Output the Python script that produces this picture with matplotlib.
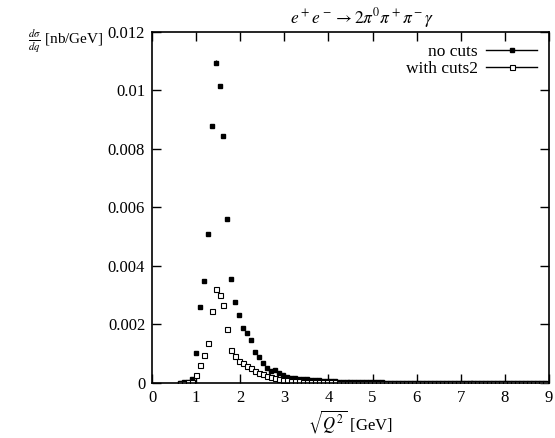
import numpy as np
import matplotlib
matplotlib.use("Agg")
import matplotlib.pyplot as plt
from matplotlib.lines import Line2D

plt.rcParams['font.family'] = ['Liberation Serif', 'DejaVu Serif']
plt.rcParams['mathtext.fontset'] = 'stix'

# bin positions (GeV), width 0.09
q = np.round(np.arange(7, 100) * 0.09, 2)

# no cuts
no_cuts = [0.00001, 0.00002, 0.00005, 0.00012, 0.00104, 0.0026, 0.0035, 0.0051, 0.0088, 0.01095,
           0.01015, 0.00845, 0.0056, 0.00356, 0.00278, 0.00232, 0.00187, 0.00172, 0.00147, 0.00107,
           0.0009, 0.00069, 0.00052, 0.00042, 0.00044, 0.00035, 0.00028, 0.0002, 0.00018, 0.00017,
           0.00015, 0.00014, 0.00012, 0.00011, 0.0001, 0.00009, 0.00008, 0.00007, 0.00006, 0.00006,
           0.00005, 0.00005, 0.00004, 0.00004, 0.00003, 0.00003, 0.00003, 0.00002, 0.00002, 0.00002,
           0.00002, 0.00002, 0.00001, 0.00001, 0.00001, 0.00001, 0.00001, 0.00001, 0.00001, 0.00001,
           0.00001, 0.00001, 0.00001, 0.00001, 0.00001, 0.00001, 0.00001, 0.00001, 0.00001, 0.00001,
           0.00001, 0.00001, 0.00001, 0.00001, 0.00001, 0.00001, 0.00001, 0.00001, 0.00001, 0.00001,
           0.00001, 0.00001, 0.00001, 0.00001, 0.00001, 0.00001, 0.00001, 0.00001, 0.00001, 0.00001,
           0.00001, 0.00001, 0.00001]

# with cuts2
with_cuts = [0.0, 0.00001, 0.00002, 0.00005, 0.00028, 0.00063, 0.00097, 0.00138, 0.00247, 0.0032,
             0.003, 0.00266, 0.00183, 0.00113, 0.00092, 0.00075, 0.00067, 0.00058, 0.0005, 0.00042,
             0.00035, 0.0003, 0.00024, 0.0002, 0.00017, 0.00014, 0.00011, 0.00009, 0.00008, 0.00007,
             0.00006, 0.00005, 0.00004, 0.00004, 0.00003, 0.00003, 0.00002, 0.00002, 0.00002, 0.00002,
             0.00001, 0.00001, 0.00001, 0.00001, 0.00001, 0.00001, 0.00001, 0.00001, 0.00001, 0.00001,
             0.00001, 0.00001, 0.00001, 0.00001, 0.00001, 0.00001, 0.0, 0.0, 0.0, 0.0,
             0.0, 0.0, 0.0, 0.0, 0.0, 0.0, 0.0, 0.0, 0.0, 0.0,
             0.0, 0.0, 0.0, 0.0, 0.0, 0.0, 0.0, 0.0, 0.0, 0.0,
             0.0, 0.0, 0.0, 0.0, 0.0, 0.0, 0.0, 0.0, 0.0, 0.0,
             0.0, 0.0, 0.0]

no_cuts = np.array(no_cuts)
with_cuts = np.array(with_cuts)

fig = plt.figure(figsize=(5.55, 4.38), dpi=100)
ax = fig.add_axes([0.274, 0.1256, 0.715, 0.8014])

ax.errorbar(q, no_cuts, yerr=0.008 * no_cuts, fmt='s', color='black', ms=3.2,
            elinewidth=0.8, capsize=0)
ax.errorbar(q, with_cuts, yerr=0.008 * with_cuts, fmt='s', color='black', ms=3.6,
            mfc='white', mew=0.8, elinewidth=0.8, capsize=0)

ax.set_xlim(0, 9)
ax.set_ylim(0, 0.012)
ax.set_xticks(range(0, 10))
ax.set_yticks([0, 0.002, 0.004, 0.006, 0.008, 0.01, 0.012])
ax.set_yticklabels(['0', '0.002', '0.004', '0.006', '0.008', '0.01', '0.012'])
ax.tick_params(direction='in', length=6.5, width=1, top=True, right=True,
               labelsize=12, pad=5)
for s in ax.spines.values():
    s.set_linewidth(1.2)

ax.set_title(r'$e^+e^- \rightarrow 2\pi^0\pi^+\pi^-\gamma$', fontsize=12.5, pad=6, x=0.53)
ax.set_xlabel(r'$\sqrt{Q^2}$ [GeV]', fontsize=12, labelpad=2)
fig.text(0.05, 0.905, r'$\frac{d\sigma}{dq}$ [nb/GeV]', fontsize=11, va='center')

handles = [Line2D([], [], color='black', lw=1, marker='s', ms=3.2),
           Line2D([], [], color='black', lw=1, marker='s', ms=3.6, mfc='white', mew=0.8)]
leg = ax.legend(handles, ['no cuts', 'with cuts2'], loc='upper right', markerfirst=False,
                frameon=False, fontsize=12.5, handlelength=2.9, handletextpad=0.5,
                borderaxespad=0.3, labelspacing=0.05, numpoints=1)
for t in leg.get_texts():
    t.set_ha('right')

fig.savefig('out.png', dpi=100)
